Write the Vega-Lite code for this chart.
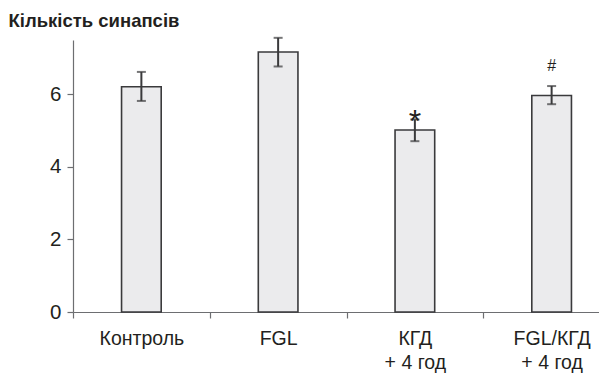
{
  "$schema": "https://vega.github.io/schema/vega-lite/v6.json",
  "autosize": "none",
  "width": 526,
  "height": 272,
  "padding": {"left": 73, "top": 40, "right": 0, "bottom": 66},
  "background": "white",
  "config": {"view": {"stroke": null}, "font": "Liberation Sans"},
  "data": {"values": [
    {"group": "Контроль", "mean": 6.21, "lo": 5.82, "hi": 6.62, "sig": "", "sigY": null},
    {"group": "FGL", "mean": 7.17, "lo": 6.77, "hi": 7.56, "sig": "", "sigY": null},
    {"group": "КГД|+ 4 год", "mean": 5.02, "lo": 4.71, "hi": 5.31, "sig": "*", "sigY": 5.45},
    {"group": "FGL/КГД|+ 4 год", "mean": 5.97, "lo": 5.73, "hi": 6.23, "sig": "#", "sigY": 6.78}
  ]},
  "encoding": {
    "x": {
      "field": "group", "type": "nominal", "sort": null,
      "scale": {"range": [0, 547], "paddingInner": 0, "paddingOuter": 0},
      "axis": {
        "title": null, "labelAngle": 0, "tickBand": "extent",
        "labelExpr": "split(datum.label, '|')",
        "labelFontSize": 19.5, "labelColor": "#231f20", "labelLineHeight": 24,
        "labelPadding": 11, "tickSize": 6, "tickColor": "#6d6e71", "domainColor": "#6d6e71",
        "tickWidth": 1.2, "domainWidth": 1.2
      }
    }
  },
  "layer": [
    {
      "mark": {"type": "bar", "fill": "#ebebed", "stroke": "#3a3a3c", "strokeWidth": 1.6, "width": {"band": 0.29}},
      "encoding": {
        "y": {
          "field": "mean", "type": "quantitative",
          "scale": {"domain": [0, 7.5], "nice": false},
          "axis": {
            "values": [0, 2, 4, 6], "grid": false, "tickSize": 6, "labelPadding": 6,
            "labelFontSize": 20.5, "labelColor": "#231f20", "tickColor": "#6d6e71", "domainColor": "#6d6e71",
            "tickWidth": 1.2, "domainWidth": 1.2,
            "title": "Кількість синапсів", "titleAngle": 0, "titleAlign": "left", "titleBaseline": "alphabetic",
            "titleX": -65, "titleY": -14, "titleFontSize": 18.5, "titleFontWeight": "bold", "titleColor": "#231f20"
          }
        }
      }
    },
    {
      "mark": {"type": "rule", "stroke": "#3a3a3c", "strokeWidth": 2},
      "encoding": {"y": {"field": "lo", "type": "quantitative"}, "y2": {"field": "hi"}}
    },
    {
      "mark": {"type": "tick", "color": "#3a3a3c", "size": 9, "thickness": 2, "orient": "horizontal"},
      "encoding": {"y": {"field": "lo", "type": "quantitative"}}
    },
    {
      "mark": {"type": "tick", "color": "#3a3a3c", "size": 9, "thickness": 2, "orient": "horizontal"},
      "encoding": {"y": {"field": "hi", "type": "quantitative"}}
    },
    {
      "transform": [{"filter": "datum.sig == '*'"}],
      "mark": {"type": "text", "fontSize": 32, "baseline": "middle", "color": "#231f20", "dy": 8},
      "encoding": {"y": {"field": "sigY", "type": "quantitative"}, "text": {"field": "sig"}}
    },
    {
      "transform": [{"filter": "datum.sig == '#'"}],
      "mark": {"type": "text", "fontSize": 16, "baseline": "middle", "color": "#231f20"},
      "encoding": {"y": {"field": "sigY", "type": "quantitative"}, "text": {"field": "sig"}}
    }
  ]
}
